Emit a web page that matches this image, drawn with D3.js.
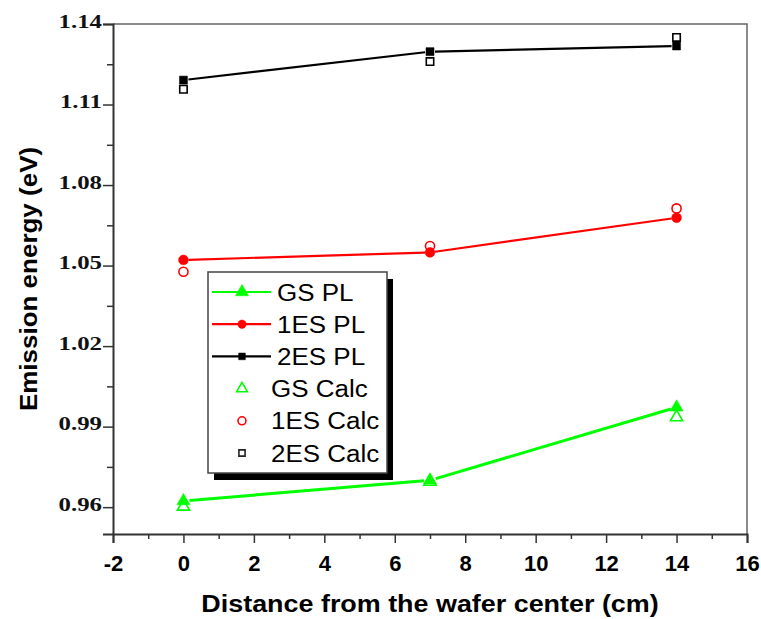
<!DOCTYPE html>
<html>
<head>
<meta charset="utf-8">
<script src="https://cdn.jsdelivr.net/npm/d3@7"></script>
<style>
  body { margin: 0; background: #fff; }
  svg { display: block; }
</style>
</head>
<body>
<svg id="chart"></svg>
<script>
// distance from wafer center (cm)
const distances = [0, 7, 14];

// measured PL peaks (eV)
const gsPL = [0.9623, 0.9700, 0.9972];
const es1PL = [1.0521, 1.0549, 1.0678];
const es2PL = [1.1191, 1.1297, 1.1318];

// calculated transitions (eV)
const gsCalc = [0.9602, 0.9695, 0.9935];
const es1Calc = [1.0477, 1.0573, 1.0713];
const es2Calc = [1.1157, 1.1260, 1.1350];

const xTicks = [-2, 0, 2, 4, 6, 8, 10, 12, 14, 16];
const xMinor = [-1, 1, 3, 5, 7, 9, 11, 13, 15];
const yTicks = [0.96, 0.99, 1.02, 1.05, 1.08, 1.11, 1.14];
const yMinor = [0.975, 1.005, 1.035, 1.065, 1.095, 1.125];

const legendLabels = ['GS PL', '1ES PL', '2ES PL', 'GS Calc', '1ES Calc', '2ES Calc'];

const width = 761, height = 619;
const margin = { left: 113, top: 24, right: 14, bottom: 85 };

const svg = d3.select('#chart')
    .attr('width', width)
    .attr('height', height);

const x = d3.scaleLinear().domain([-2, 16]).range([margin.left, width - margin.right]);
const y = d3.scaleLinear().domain([0.95, 1.14]).range([height - margin.bottom, margin.top]);

const green = '#00ff00', red = '#ff0000', black = '#000000';

// frame (top and right)
svg.append('path')
    .attr('d', `M${x(-2)},${y(1.14)}H${x(16)}V${y(0.95)}`)
    .attr('fill', 'none')
    .attr('stroke', '#666')
    .attr('stroke-width', 1.5);

// x axis
const xAxis = svg.append('g')
    .attr('transform', `translate(0,${y(0.95)})`)
    .call(d3.axisBottom(x).tickValues(xTicks).tickSize(9).tickFormat(d => String(d)));
xAxis.select('.domain').attr('stroke', '#333').attr('stroke-width', 2);
xAxis.selectAll('.tick line').attr('stroke', '#333').attr('stroke-width', 1.5);
xAxis.selectAll('.tick text')
    .attr('y', 21)
    .attr('font-family', '"Liberation Sans", Arial, sans-serif')
    .attr('font-weight', 'bold')
    .attr('font-size', 22)
    .attr('fill', '#000');

svg.append('g')
    .attr('transform', `translate(0,${y(0.95)})`)
    .call(d3.axisBottom(x).tickValues(xMinor).tickSize(5).tickFormat(''))
    .call(g => g.select('.domain').remove())
    .call(g => g.selectAll('.tick line').attr('stroke', '#333').attr('stroke-width', 1.5));

// y axis
const serifStretch = 1.38;
const yAxis = svg.append('g')
    .attr('transform', `translate(${x(-2)},0)`)
    .call(d3.axisLeft(y).tickValues(yTicks).tickSize(10).tickFormat(d3.format('.2f')));
yAxis.select('.domain').attr('stroke', '#333').attr('stroke-width', 2);
yAxis.selectAll('.tick line').attr('stroke', '#333').attr('stroke-width', 1.5);
yAxis.selectAll('.tick text')
    .attr('x', -11 / serifStretch)
    .attr('dy', '0.17em')
    .attr('transform', `scale(${serifStretch},1)`)
    .attr('font-family', '"Liberation Serif", "Times New Roman", serif')
    .attr('font-weight', 'bold')
    .attr('font-size', 18)
    .attr('fill', '#111');

svg.append('g')
    .attr('transform', `translate(${x(-2)},0)`)
    .call(d3.axisLeft(y).tickValues(yMinor).tickSize(6).tickFormat(''))
    .call(g => g.select('.domain').remove())
    .call(g => g.selectAll('.tick line').attr('stroke', '#333').attr('stroke-width', 1.5));

// axis titles
svg.append('text')
    .attr('transform', `translate(${(x(-2) + x(16)) / 2},612) scale(1.17,1)`)
    .attr('text-anchor', 'middle')
    .attr('font-family', '"Liberation Sans", Arial, sans-serif')
    .attr('font-weight', 'bold')
    .attr('font-size', 23)
    .text('Distance from the wafer center (cm)');

svg.append('text')
    .attr('transform', `translate(37,${(y(0.95) + y(1.14)) / 2}) rotate(-90) scale(1.13,1)`)
    .attr('text-anchor', 'middle')
    .attr('font-family', '"Liberation Sans", Arial, sans-serif')
    .attr('font-weight', 'bold')
    .attr('font-size', 23)
    .text('Emission energy (eV)');

// marker shapes
const sym = {
    triangle: d3.symbol().type(d3.symbolTriangle),
    circle: d3.symbol().type(d3.symbolCircle),
    square: d3.symbol().type(d3.symbolSquare)
};

// lines drawn as segments with small gaps at the symbols
function drawLine(values, color, lw, gap) {
    const pts = distances.map((d, i) => [x(d), y(values[i])]);
    const segs = d3.pairs(pts).map(([a, b]) => {
        const dx = b[0] - a[0], dy = b[1] - a[1];
        const len = Math.hypot(dx, dy);
        const ux = dx / len, uy = dy / len;
        return [[a[0] + ux * gap, a[1] + uy * gap], [b[0] - ux * gap, b[1] - uy * gap]];
    });
    svg.append('g').selectAll('line')
        .data(segs)
        .join('line')
        .attr('x1', d => d[0][0]).attr('y1', d => d[0][1])
        .attr('x2', d => d[1][0]).attr('y2', d => d[1][1])
        .attr('stroke', color)
        .attr('stroke-width', lw);
}

function drawMarkers(values, shape, size, color, filled) {
    svg.append('g').selectAll('path')
        .data(values)
        .join('path')
        .attr('transform', (v, i) => `translate(${x(distances[i])},${y(v)})`)
        .attr('d', sym[shape].size(size)())
        .attr('fill', filled ? color : 'none')
        .attr('stroke', color)
        .attr('stroke-width', filled ? 0.5 : 1.6);
}

drawLine(gsPL, green, 3, 6);
drawLine(es1PL, red, 2.2, 5);
drawLine(es2PL, black, 2.2, 5);

drawMarkers(gsCalc, 'triangle', 65, green, false);
drawMarkers(es1Calc, 'circle', 65, red, false);
drawMarkers(es2Calc, 'square', 55, black, false);
drawMarkers(gsPL, 'triangle', 75, green, true);
drawMarkers(es1PL, 'circle', 75, red, true);
drawMarkers(es2PL, 'square', 64, black, true);

// legend
const lg = { x: 208, y: 272, w: 179, h: 201, row0: 292, rowStep: 32.2 };
const legend = svg.append('g');
legend.append('rect')
    .attr('x', lg.x + 6).attr('y', lg.y + 7)
    .attr('width', lg.w).attr('height', lg.h)
    .attr('fill', '#000');
legend.append('rect')
    .attr('x', lg.x).attr('y', lg.y)
    .attr('width', lg.w).attr('height', lg.h)
    .attr('fill', '#fff')
    .attr('stroke', '#444')
    .attr('stroke-width', 1.5);

const legendItems = [
    { label: legendLabels[0], color: green, shape: 'triangle', size: 75, filled: true, line: true, tx: 277 },
    { label: legendLabels[1], color: red, shape: 'circle', size: 55, filled: true, line: true, tx: 277 },
    { label: legendLabels[2], color: black, shape: 'square', size: 45, filled: true, line: true, tx: 277 },
    { label: legendLabels[3], color: green, shape: 'triangle', size: 50, filled: false, line: false, tx: 271 },
    { label: legendLabels[4], color: red, shape: 'circle', size: 50, filled: false, line: false, tx: 271 },
    { label: legendLabels[5], color: '#222', shape: 'square', size: 38, filled: false, line: false, tx: 271 }
];

const items = legend.selectAll('g.item')
    .data(legendItems)
    .join('g')
    .attr('class', 'item')
    .attr('transform', (d, i) => `translate(0,${lg.row0 + i * lg.rowStep})`);

items.filter(d => d.line).append('line')
    .attr('x1', 212).attr('x2', 271)
    .attr('stroke', d => d.color)
    .attr('stroke-width', 2.2);

items.append('path')
    .attr('transform', 'translate(242,0)')
    .attr('d', d => sym[d.shape].size(d.size)())
    .attr('fill', d => d.filled ? d.color : '#fff')
    .attr('stroke', d => d.color)
    .attr('stroke-width', d => d.filled ? 0.5 : 1.6);

items.append('text')
    .attr('transform', d => `translate(${d.tx},8.5) scale(1.13,1)`)
    .attr('font-family', '"Liberation Sans", Arial, sans-serif')
    .attr('font-size', 23)
    .attr('fill', '#000')
    .text(d => d.label);
</script>
</body>
</html>
